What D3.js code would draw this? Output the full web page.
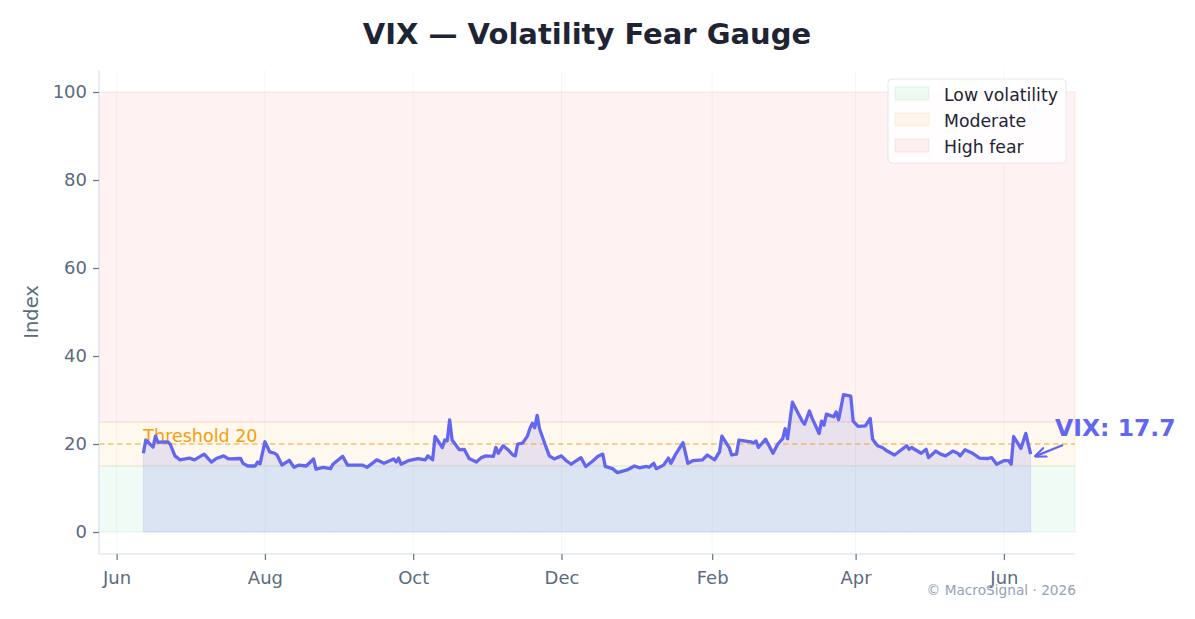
<!DOCTYPE html>
<html><head><meta charset="utf-8">
<script src="https://cdn.jsdelivr.net/npm/d3@7/dist/d3.min.js"></script>
<style>
body{margin:0;background:#fff;}
svg{display:block;font-family:"DejaVu Sans",sans-serif;}
</style></head>
<body><svg id="chart" width="1195" height="619"></svg>
<script>
const dates = ["2025-06-12","2025-06-13","2025-06-16","2025-06-17","2025-06-18","2025-06-22","2025-06-23","2025-06-25","2025-06-27","2025-07-01","2025-07-03","2025-07-07","2025-07-10","2025-07-12","2025-07-15","2025-07-17","2025-07-22","2025-07-23","2025-07-25","2025-07-28","2025-07-29","2025-07-30","2025-08-01","2025-08-03","2025-08-05","2025-08-06","2025-08-08","2025-08-11","2025-08-13","2025-08-15","2025-08-18","2025-08-21","2025-08-22","2025-08-25","2025-08-28","2025-08-29","2025-09-02","2025-09-04","2025-09-10","2025-09-12","2025-09-16","2025-09-19","2025-09-23","2025-09-24","2025-09-25","2025-09-26","2025-09-29","2025-10-03","2025-10-06","2025-10-07","2025-10-09","2025-10-10","2025-10-13","2025-10-14","2025-10-15","2025-10-16","2025-10-17","2025-10-20","2025-10-22","2025-10-24","2025-10-27","2025-10-29","2025-10-31","2025-11-03","2025-11-04","2025-11-05","2025-11-07","2025-11-09","2025-11-11","2025-11-12","2025-11-13","2025-11-15","2025-11-17","2025-11-18","2025-11-19","2025-11-20","2025-11-21","2025-11-22","2025-11-24","2025-11-26","2025-11-28","2025-12-01","2025-12-03","2025-12-05","2025-12-09","2025-12-11","2025-12-14","2025-12-16","2025-12-18","2025-12-19","2025-12-22","2025-12-24","2025-12-28","2025-12-31","2026-01-02","2026-01-05","2026-01-06","2026-01-08","2026-01-09","2026-01-12","2026-01-14","2026-01-15","2026-01-17","2026-01-20","2026-01-22","2026-01-24","2026-01-28","2026-01-30","2026-02-02","2026-02-04","2026-02-05","2026-02-08","2026-02-09","2026-02-11","2026-02-12","2026-02-17","2026-02-18","2026-02-19","2026-02-20","2026-02-23","2026-02-26","2026-02-28","2026-03-02","2026-03-03","2026-03-04","2026-03-06","2026-03-10","2026-03-11","2026-03-13","2026-03-14","2026-03-17","2026-03-18","2026-03-19","2026-03-20","2026-03-23","2026-03-24","2026-03-25","2026-03-27","2026-03-30","2026-03-31","2026-04-02","2026-04-05","2026-04-07","2026-04-08","2026-04-10","2026-04-12","2026-04-14","2026-04-17","2026-04-22","2026-04-23","2026-04-24","2026-04-28","2026-04-30","2026-05-01","2026-05-04","2026-05-06","2026-05-08","2026-05-11","2026-05-13","2026-05-14","2026-05-16","2026-05-18","2026-05-19","2026-05-22","2026-05-25","2026-05-27","2026-05-29","2026-06-01","2026-06-03","2026-06-04","2026-06-05","2026-06-08","2026-06-10","2026-06-12"];
const vix = [17.9,20.9,19.3,21.8,20.4,20.5,20.0,17.3,16.4,16.8,16.4,17.7,15.9,16.7,17.3,16.6,16.7,15.6,15.0,15.0,15.9,15.5,20.5,18.2,17.9,17.5,15.2,16.3,14.7,15.2,15.0,16.6,14.3,14.7,14.4,15.4,17.2,15.2,15.2,14.7,16.4,15.6,16.6,15.9,16.8,15.4,16.2,16.7,16.4,17.3,16.4,21.7,19.2,20.9,20.7,25.5,20.9,18.7,18.8,16.7,15.9,16.9,17.3,17.2,19.2,17.9,19.6,18.7,17.5,17.3,20.0,20.2,21.8,23.5,24.7,23.7,26.5,23.4,20.3,17.3,16.6,17.3,16.2,15.4,16.9,14.9,16.2,17.2,17.7,14.9,14.4,13.5,14.1,15.0,14.6,14.9,14.7,15.6,14.4,15.2,16.8,15.6,17.7,20.3,15.6,16.2,16.4,17.5,16.4,18.2,21.8,19.2,17.5,17.7,20.9,20.5,20.2,20.7,19.2,21.1,17.9,20.0,21.2,23.5,21.2,29.5,25.2,24.5,27.5,26.0,22.4,25.2,24.3,26.8,26.2,27.3,25.5,31.2,30.9,25.2,24.0,24.1,25.8,21.1,19.6,19.2,18.4,17.5,19.6,18.8,19.2,17.9,18.8,16.9,18.4,17.7,17.3,18.4,17.9,17.3,18.7,18.2,17.9,16.8,16.7,16.9,15.4,16.2,16.2,15.4,21.7,19.0,22.4,17.7];
const bandNames = ["Low volatility","Moderate","High fear"];
const bandLow = [0,15,25];
const bandHigh = [15,25,100];
const bandColors = ["#22c55e","#f59e0b","#ef4444"];
const yTicks = [0,20,40,60,80,100];
const xTickDates = ["2025-06-01","2025-08-01","2025-10-01","2025-12-01","2026-02-01","2026-04-01","2026-06-01"];
const threshold = 20;

const parse = d3.timeParse("%Y-%m-%d");
const data = dates.map((d,i)=>({date:parse(d), v:vix[i]}));
const svg = d3.select("#chart");
const L=99,R=1075,T=70,B=554;
const d0 = data[0].date, d1 = data[data.length-1].date;
const span = d1 - d0, pad = span*0.05;
const x = d3.scaleTime().domain([new Date(+d0-pad), new Date(+d1+pad)]).range([L,R]);
const y = d3.scaleLinear().domain([-5,105]).range([B,T]);

// x grid
svg.append("g").selectAll("line").data(xTickDates.map(parse)).join("line")
  .attr("x1",d=>x(d)).attr("x2",d=>x(d)).attr("y1",T).attr("y2",B)
  .attr("stroke","#e2e8f0").attr("stroke-width",0.8).attr("opacity",0.4);

// bands
const bands = bandNames.map((n,i)=>({n,lo:bandLow[i],hi:bandHigh[i],c:bandColors[i]}));
svg.append("g").selectAll("rect").data(bands).join("rect")
  .attr("x",L).attr("width",R-L)
  .attr("y",d=>y(d.hi)).attr("height",d=>y(d.lo)-y(d.hi))
  .attr("fill",d=>d.c).attr("fill-opacity",0.07)
  .attr("stroke",d=>d.c).attr("stroke-opacity",0.12).attr("stroke-width",1);

// area
const area = d3.area().x(d=>x(d.date)).y0(y(0)).y1(d=>y(d.v));
svg.append("path").datum(data).attr("d",area)
  .attr("fill","#6366f1").attr("fill-opacity",0.15)
  .attr("stroke","#6366f1").attr("stroke-opacity",0.12).attr("stroke-width",1);

// threshold
svg.append("line").attr("x1",L).attr("x2",R).attr("y1",y(threshold)).attr("y2",y(threshold))
  .attr("stroke","#f59e0b").attr("stroke-opacity",0.6).attr("stroke-width",1.5).attr("stroke-dasharray","5.5,3.5");
svg.append("text").attr("x",x(data[0].date)).attr("y",y(threshold)-2)
  .attr("fill","#f59e0b").attr("font-size",17.5).text("Threshold "+threshold);

// line
const line = d3.line().x(d=>x(d.date)).y(d=>y(d.v));
svg.append("path").datum(data).attr("d",line)
  .attr("fill","none").attr("stroke","#6366f1").attr("stroke-width",3.3).attr("stroke-linejoin","round");

// axes
const axisColor="#e2e8f0", tickColor="#64748b", labelColor="#5b6b80";
const yAxis = svg.append("g").attr("transform",`translate(${L},0)`)
  .call(d3.axisLeft(y).tickValues(yTicks).tickSize(6).tickPadding(6));
const xAxis = svg.append("g").attr("transform",`translate(0,${B})`)
  .call(d3.axisBottom(x).tickValues(xTickDates.map(parse)).tickFormat(d3.timeFormat("%b")).tickSize(6).tickPadding(11));
[yAxis,xAxis].forEach(g=>{
  g.select(".domain").attr("stroke",axisColor).attr("stroke-width",1.5);
  g.selectAll(".tick line").attr("stroke",tickColor).attr("stroke-width",1.2);
  g.selectAll(".tick text").attr("fill",labelColor).attr("font-size",18).attr("font-family","DejaVu Sans");
});
yAxis.select(".domain").attr("d",`M0,${T}V${B}`);
xAxis.select(".domain").attr("d",`M${L},0H${R}`);
xAxis.selectAll(".tick text").attr("dy","0.71em");

svg.append("text").attr("transform",`translate(38,${(T+B)/2}) rotate(-90)`)
  .attr("text-anchor","middle").attr("fill",labelColor).attr("font-size",19.5).text("Index");

// title
svg.append("text").attr("x",587).attr("y",44).attr("text-anchor","middle")
  .attr("fill","#1e2433").attr("font-size",29).attr("font-weight","bold").text("VIX — Volatility Fear Gauge");

// annotation
const last = data[data.length-1];
svg.append("defs").append("marker").attr("id","ah").attr("viewBox","0 0 10 10").attr("refX",9).attr("refY",5)
  .attr("markerWidth",5.5).attr("markerHeight",5.5).attr("orient","auto")
  .append("path").attr("d","M0,1 L10,5 L0,9").attr("fill","none").attr("stroke","#6366f1").attr("stroke-width",1.8);
svg.append("line").attr("x1",1063).attr("y1",445).attr("x2",x(last.date)+5).attr("y2",y(last.v)+2)
  .attr("stroke","#6366f1").attr("stroke-width",2.2).attr("marker-end","url(#ah)");
svg.append("text").attr("x",1055).attr("y",436).attr("fill","#6366f1").attr("font-size",23.5).attr("font-weight","bold")
  .text("VIX: "+last.v.toFixed(1));

// legend
const lg = svg.append("g").attr("transform","translate(888,79)");
lg.append("rect").attr("width",178).attr("height",84).attr("rx",4).attr("fill","#fff").attr("fill-opacity",0.85)
  .attr("stroke","#e2e8f0").attr("stroke-width",1);
bands.forEach((b,i)=>{
  lg.append("rect").attr("x",7).attr("y",8+i*26).attr("width",34).attr("height",13)
    .attr("fill",b.c).attr("fill-opacity",0.07).attr("stroke",b.c).attr("stroke-opacity",0.12);
  lg.append("text").attr("x",56).attr("y",21.5+i*26).attr("fill","#1e2433").attr("font-size",17.3).text(b.n);
});

// footer
svg.append("text").attr("x",1076).attr("y",595).attr("text-anchor","end").attr("fill","#94a3b8")
  .attr("font-size",13.7).text("© MacroSignal · 2026");
</script></body></html>
